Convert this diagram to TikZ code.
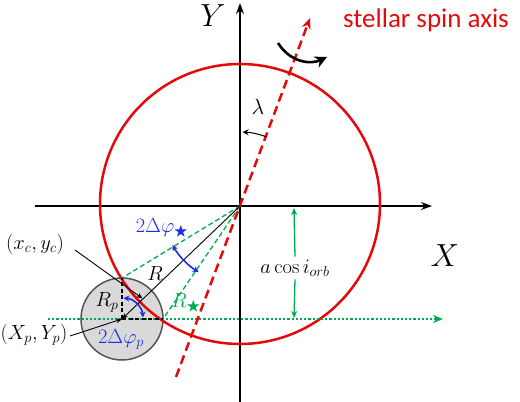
\RequirePackage{fix-cm}
\documentclass[tikz,border=0pt]{standalone}
\usepackage{amssymb}
\usepackage{fontspec}
\newfontfamily\calib{Carlito}
\usetikzlibrary{arrows.meta}
\definecolor{myred}{RGB}{228,10,10}
\definecolor{mygreen}{RGB}{0,170,80}
\definecolor{myblue}{RGB}{25,45,230}
\definecolor{pfill}{RGB}{217,217,217}
\definecolor{pborder}{RGB}{85,85,85}
\tikzset{
  axisline/.style={line width=1.6pt,-{Stealth[length=11pt,width=8pt]}},
  lab/.style={inner sep=1pt,font=\fontsize{20.5}{23}\selectfont},
  biglab/.style={inner sep=1pt,font=\fontsize{32}{34}\selectfont},
  gdash/.style={mygreen,line width=1.3pt,dash pattern=on 5pt off 3pt},
  thinarrow/.style={line width=0.9pt,-{Stealth[length=6pt,width=5pt]}},
  bluearc/.style={myblue,line width=1.6pt,{Stealth[length=6pt,width=6pt]}-{Stealth[length=6pt,width=6pt]}},
}
\begin{document}
\begin{tikzpicture}[x=1pt,y=1pt]
\useasboundingbox (0,0) rectangle (520,402);
% coordinates
\coordinate (O) at (240,196);
\coordinate (C) at (240,198);
\coordinate (P) at (122,83);
\coordinate (T) at (122,124);
\coordinate (Rt) at (163,83);
\coordinate (M) at (142.5,103.5);
\coordinate (Ybot) at (240,0);
\coordinate (Ytop) at (240,399);
\coordinate (Xl) at (35,196);
\coordinate (Xr) at (432,196);
\coordinate (Sb) at (176,25);
\coordinate (St) at (310,384);
\coordinate (Gl) at (48,83);
\coordinate (Gr) at (443,83);
\coordinate (Rs) at (278,359);
\coordinate (Re) at (327,345);
\coordinate (xcs) at (75,152);
\coordinate (xps) at (70,66);
\coordinate (At) at (294,194);
\coordinate (Ab) at (294,84);
% planet
\node[circle,draw=pborder,fill=pfill,line width=1.5pt,minimum size=82pt,inner sep=0pt] (planet) at (P) {};
% axes
\draw[axisline] (Ybot) -- (Ytop);
\draw[axisline] (Xl) -- (Xr);
% star
\draw[myred,line width=2.5pt] (C) circle[radius=140];
% orbit line
\draw[mygreen,line width=2.2pt,dotted,-{Stealth[length=10pt,width=8pt]}] (Gl) -- (Gr);
% green dashed lines
\draw[gdash] (O) -- (T);
\draw[gdash] (O) -- (Rt);
% spin axis
\draw[myred,line width=2.5pt,dash pattern=on 9pt off 5pt,-{Stealth[length=11pt,width=9pt]}] (Sb) -- (St);
% rotation arrow
\draw[line width=2.6pt,-{Stealth[length=12pt,width=12pt]}] (Rs) .. controls (290,340) and (310,337) .. (Re);
% planet dashed radii
\draw[line width=1.6pt,dash pattern=on 4pt off 2.5pt] (P) -- (T);
\draw[line width=1.6pt,dash pattern=on 4pt off 2.5pt] (P) -- (Rt);
% R line
\draw[thinarrow] (O) -- (P);
% lambda arc
\draw[line width=1pt,-{Stealth[length=6pt,width=6pt]}] ([shift={(69.5:74)}]O) arc[start angle=69.5,end angle=88,radius=74];
% blue arcs
\draw[bluearc] ([shift={(210:78)}]O) arc[start angle=210,end angle=238,radius=78];
\draw[bluearc] ([shift={(86:21)}]P) arc[start angle=86,end angle=4,radius=21];
% labels
\node[biglab] (lx) at (445,146) {$X$};
\node[biglab] (ly) at (213,386) {$Y$};
\node[inner sep=1pt,text=myred,font=\calib\fontsize{27}{29}\selectfont] (spin) at (426,382) {stellar spin axis};
\node[inner sep=1pt,font=\fontsize{22}{24}\selectfont] (lam) at (258,295) {$\lambda$};
\node[lab] (xc) at (35,158) {$(x_c,y_c)$};
\node[lab] (xp) at (34,67) {$(X_p,Y_p)$};
\node[lab] (lR) at (155,129) {$R$};
\node[lab] (lRp) at (107,100) {$R_p$};
\node[lab,text=myblue] (dphp) at (121,63) {$2\Delta\varphi_p$};
\node[lab,text=myblue] (dphs) at (162,174) {$2\Delta\varphi_{\bigstar}$};
\node[lab,text=mygreen] (lRs) at (186,99) {$R_{\bigstar}$};
\node[lab,fill=white,inner sep=3pt] (acos) at (295,134) {$a\cos i_{orb}$};
% pointer arrows
\draw[thinarrow] (xcs) -- (M);
\draw[thinarrow] (xps) -- (P);
\draw[mygreen,line width=1.3pt,-{Stealth[length=7pt,width=6pt]}] (acos.north) -- (At);
\draw[mygreen,line width=1.3pt,-{Stealth[length=7pt,width=6pt]}] (acos.south) -- (Ab);
\end{tikzpicture}
\end{document}
